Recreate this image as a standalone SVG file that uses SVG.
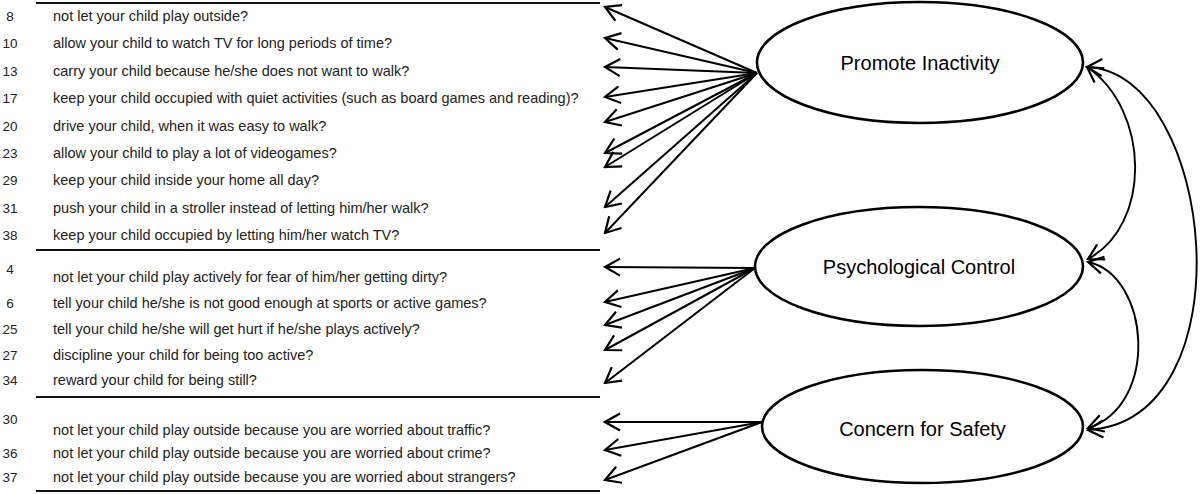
<svg xmlns="http://www.w3.org/2000/svg" width="1200" height="494" viewBox="0 0 1200 494">
<style>
.num{font-family:"Liberation Sans",Arial,sans-serif;font-size:13.5px;fill:#222;text-anchor:middle}
.itm{font-family:"Liberation Sans",Arial,sans-serif;font-size:14.5px;fill:#222}
.lbl{font-family:"Liberation Sans",Arial,sans-serif;font-size:20px;fill:#000;text-anchor:middle}
.rule{stroke:#111;stroke-width:2.2}
.ell{fill:#fff;stroke:#000;stroke-width:2.6}
.ar{stroke:#000;stroke-width:2;fill:none;marker-end:url(#hd)}
.cv{stroke:#000;stroke-width:1.9;fill:none;marker-start:url(#hd);marker-end:url(#hd)}
</style>
<defs>
<marker id="hd" markerUnits="userSpaceOnUse" viewBox="-18 -11 20 22" markerWidth="20" markerHeight="22" refX="0" refY="0" orient="auto-start-reverse">
<path d="M-15,-8.5 L0,0 L-15,8.5" fill="none" stroke="#000" stroke-width="2.2"/>
</marker>
</defs>
<rect width="1200" height="494" fill="#fff"/>
<g id="rules">
<line class="rule" x1="36" y1="3" x2="600" y2="3"/>
<line class="rule" x1="36" y1="250" x2="600" y2="250"/>
<line class="rule" x1="36" y1="397" x2="600" y2="397"/>
<line class="rule" x1="36" y1="491" x2="600" y2="491"/>
</g>
<g id="item8"><text class="num" x="10" y="21">8</text><text class="itm" x="53" y="21">not let your child play outside?</text></g>
<g id="item10"><text class="num" x="10" y="48">10</text><text class="itm" x="53" y="48">allow your child to watch TV for long periods of time?</text></g>
<g id="item13"><text class="num" x="10" y="76">13</text><text class="itm" x="53" y="76">carry your child because he/she does not want to walk?</text></g>
<g id="item17"><text class="num" x="10" y="103">17</text><text class="itm" x="53" y="103">keep your child occupied with quiet activities (such as board games and reading)?</text></g>
<g id="item20"><text class="num" x="10" y="131">20</text><text class="itm" x="53" y="131">drive your child, when it was easy to walk?</text></g>
<g id="item23"><text class="num" x="10" y="158">23</text><text class="itm" x="53" y="158">allow your child to play a lot of videogames?</text></g>
<g id="item29"><text class="num" x="10" y="185">29</text><text class="itm" x="53" y="185">keep your child inside your home all day?</text></g>
<g id="item31"><text class="num" x="10" y="213">31</text><text class="itm" x="53" y="213">push your child in a stroller instead of letting him/her walk?</text></g>
<g id="item38"><text class="num" x="10" y="240">38</text><text class="itm" x="53" y="240">keep your child occupied by letting him/her watch TV?</text></g>
<g id="item4"><text class="num" x="10" y="274">4</text><text class="itm" x="53" y="282">not let your child play actively for fear of him/her getting dirty?</text></g>
<g id="item6"><text class="num" x="10" y="308">6</text><text class="itm" x="53" y="308">tell your child he/she is not good enough at sports or active games?</text></g>
<g id="item25"><text class="num" x="10" y="334">25</text><text class="itm" x="53" y="334">tell your child he/she will get hurt if he/she plays actively?</text></g>
<g id="item27"><text class="num" x="10" y="360">27</text><text class="itm" x="53" y="360">discipline your child for being too active?</text></g>
<g id="item34"><text class="num" x="10" y="385">34</text><text class="itm" x="53" y="385">reward your child for being still?</text></g>
<g id="item30"><text class="num" x="10" y="424">30</text><text class="itm" x="53" y="435">not let your child play outside because you are worried about traffic?</text></g>
<g id="item36"><text class="num" x="10" y="458">36</text><text class="itm" x="53" y="458">not let your child play outside because you are worried about crime?</text></g>
<g id="item37"><text class="num" x="10" y="482">37</text><text class="itm" x="53" y="482">not let your child play outside because you are worried about strangers?</text></g>
<g id="node-promote"><ellipse class="ell" cx="920" cy="62.5" rx="163" ry="60.5"/><text class="lbl" x="920" y="69.5">Promote Inactivity</text></g>
<g id="node-psych"><ellipse class="ell" cx="919" cy="266.5" rx="164" ry="59.5"/><text class="lbl" x="919" y="274">Psychological Control</text></g>
<g id="node-safety"><ellipse class="ell" cx="922.5" cy="426.5" rx="160.5" ry="56.5"/><text class="lbl" x="922.5" y="436">Concern for Safety</text></g>
<g id="connectors">
<line class="ar" x1="757" y1="73" x2="605" y2="7"/>
<line class="ar" x1="757" y1="73" x2="605" y2="38"/>
<line class="ar" x1="757" y1="73" x2="605" y2="67"/>
<line class="ar" x1="757" y1="73" x2="605" y2="97"/>
<line class="ar" x1="757" y1="73" x2="605" y2="122"/>
<line class="ar" x1="757" y1="73" x2="605" y2="153"/>
<line class="ar" x1="757" y1="73" x2="605" y2="167"/>
<line class="ar" x1="757" y1="73" x2="605" y2="207"/>
<line class="ar" x1="757" y1="73" x2="605" y2="233"/>
<line class="ar" x1="755" y1="268" x2="605" y2="267"/>
<line class="ar" x1="755" y1="268" x2="605" y2="302"/>
<line class="ar" x1="755" y1="268" x2="605" y2="325"/>
<line class="ar" x1="755" y1="268" x2="605" y2="350"/>
<line class="ar" x1="755" y1="268" x2="605" y2="383"/>
<line class="ar" x1="762" y1="422" x2="605" y2="422"/>
<line class="ar" x1="762" y1="422" x2="605" y2="450"/>
<line class="ar" x1="762" y1="422" x2="605" y2="480"/>
<path class="cv" d="M1087,67 C1150,110 1152,225 1088,259"/>
<path class="cv" d="M1088,262 C1150,275 1160,405 1088,428"/>
<path class="cv" d="M1087,67 C1215,72 1250,420 1088,430"/>
</g>
</svg>
